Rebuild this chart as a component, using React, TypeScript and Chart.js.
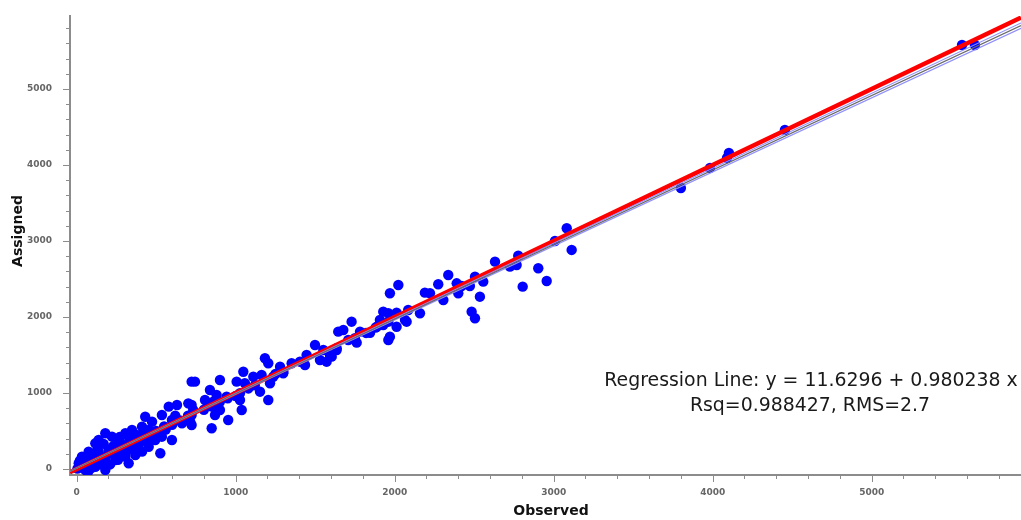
import { useEffect, useRef } from "react";
import { Chart, registerables } from "chart.js";
Chart.register(...registerables);

// Observed (x) and Assigned (y) values
const observed: number[] = [
  3082, 3008, 3113, 2777, 2631, 2725, 2767, 2903, 2505, 2557, 2956, 2805, 2536, 2484,
  2023, 1970, 2337, 2274, 2390, 2421, 2190, 2222, 2306, 2400, 2473, 2505, 1928, 1960,
  2012, 1907, 1960, 2065, 2159, 2085, 1729, 1677, 1782, 1845, 1970, 1960, 1708, 1761,
  1635, 1604, 1887, 1928, 2012, 2075,
  1645, 1499, 1551, 1593, 1635, 1530, 1572, 1446, 1436, 1352, 1404, 1184, 1205, 1279,
  1299, 1236, 1216, 1048, 1111, 1163, 1006, 1058, 1153, 1205, 901, 723, 744, 838, 880,
  807, 859, 943, 1027, 1038, 901, 870, 953, 849, 723, 723, 723, 1027,
  579, 631, 702, 733, 536, 599, 662, 714, 431, 474, 411, 453, 348, 379, 306, 264, 222,
  180, 138, 117, 327, 390, 453, 494, 536, 599, 526, 306, 369, 180, 243, 117, 180, 33,
  75, 13, 5, 54, 23, 138, 201, 411, 274, 71, 327,
  50, 100, 150, 200, 250, 300, 350, 400, 450, 500, 550, 600, 650, 700, 60, 120, 180,
  240, 280, 320, 420, 480, 560, 620, 800, 850, 900, 950, 1000, 1080, 1120, 1250, 1300,
  1750, 1820, 1880,
  20, 40, 90, 110, 160, 210, 260, 130, 60, 230, 290, 350, 170, 100, 270, 380, 440, 330,
  3800, 3983, 4090, 4102, 4454, 5568, 5649,
];
const assigned: number[] = [
  3167, 3000, 2882, 2807, 2728, 2662, 2684, 2641, 2530, 2465, 2474, 2399, 2267, 2070,
  2421, 2312, 2553, 2430, 2443, 2408, 2320, 2312, 2224, 2312, 2408, 1983, 2070, 2049,
  2057, 1961, 1938, 1961, 2049, 2092, 1938, 1829, 1807, 1793, 1741, 1697, 1697, 1662,
  1566, 1478, 1872, 1895, 1872, 1938,
  1807, 1632, 1566, 1500, 1588, 1434, 1412, 1500, 1368, 1391, 1412, 1457, 1391, 1346,
  1259, 1214, 1128, 1280, 1214, 1237, 1149, 1128, 1017, 908, 1171, 1149, 1149, 1039, 974,
  908, 886, 951, 908, 776, 776, 711, 645, 536, 842, 711, 579, 996,
  820, 842, 864, 776, 711, 645, 601, 622, 688, 622, 557, 513, 513, 447, 470, 382, 425,
  470, 382, 338, 293, 316, 293, 382, 425, 382, 207, 162, 184, 96, 118, 30, -13, 162,
  228, 75, 5, -13, 30, 228, 250, 228, 207, -39, 75,
  60, 90, 130, 200, 240, 290, 350, 380, 430, 500, 560, 580, 640, 700, 20, 40, 160,
  180, 330, 250, 470, 420, 520, 700, 780, 820, 880, 930, 960, 1060, 1100, 1250, 1280,
  1720, 1790, 1860,
  110, 150, 10, 130, 60, 60, 120, 250, 140, 300, 200, 260, 330, 190, 420, 320, 360, 400,
  3697, 3961, 4092, 4158, 4461, 5579, 5579,
];

const xLimits = [-42, 5939];
const yLimits = [-79, 5960];
const majorTicks = [0, 1000, 2000, 3000, 4000, 5000];
const minorTicks = [
  200, 400, 600, 800, 1200, 1400, 1600, 1800, 2200, 2400, 2600, 2800, 3200, 3400, 3600,
  3800, 4200, 4400, 4600, 4800, 5200, 5400, 5600, 5800,
];
const regIntercept = 11.6296;
const regSlope = 0.980238;
const bandSlopes = [0.9862, 0.9745];
const xTitle = "Observed";
const yTitle = "Assigned";
const regressionText = ["Regression Line: y = 11.6296 + 0.980238 x", "Rsq=0.988427, RMS=2.7"];

const allTicks = [...majorTicks, ...minorTicks].sort((a, b) => a - b);

export default function App() {
  const ref = useRef<HTMLCanvasElement | null>(null);
  useEffect(() => {
    if (!ref.current) return;
    const points = observed.map((x, i) => ({ x, y: assigned[i] }));
    const lineEnds = (b: number, m: number) => [
      { x: xLimits[0], y: b + m * xLimits[0] },
      { x: xLimits[1], y: b + m * xLimits[1] },
    ];
    const noPad = (s: any) => {
      s.paddingTop = 0;
      s.paddingBottom = 0;
      s.paddingLeft = 0;
      s.paddingRight = 0;
    };
    const decorations = {
      id: "decorations",
      afterDraw(chart: any) {
        const { ctx, chartArea } = chart;
        const xs = chart.scales.x;
        const ys = chart.scales.y;
        ctx.save();
        ctx.strokeStyle = "#8c8c8c";
        ctx.lineWidth = 1;
        for (const v of allTicks) {
          const len = majorTicks.includes(v) ? 6 : 3;
          const px = Math.round(xs.getPixelForValue(v)) + 0.5;
          ctx.beginPath();
          ctx.moveTo(px, chartArea.bottom + 1);
          ctx.lineTo(px, chartArea.bottom + 1 + len);
          ctx.stroke();
          const py = Math.round(ys.getPixelForValue(v)) + 0.5;
          ctx.beginPath();
          ctx.moveTo(chartArea.left - 1, py);
          ctx.lineTo(chartArea.left - 1 - len, py);
          ctx.stroke();
        }
        ctx.fillStyle = "#111";
        ctx.textAlign = "center";
        ctx.textBaseline = "middle";
        ctx.font = 'bold 14px "DejaVu Sans"';
        ctx.fillText(xTitle, 551, 511);
        ctx.save();
        ctx.translate(18, 231);
        ctx.rotate(-Math.PI / 2);
        ctx.font = 'bold 14px "DejaVu Sans"';
        ctx.fillText(yTitle, 0, 0);
        ctx.restore();
        ctx.fillStyle = "#1a1a1a";
        ctx.font = '18.9px "DejaVu Sans"';
        ctx.fillText(regressionText[0], 811, 381);
        ctx.fillText(regressionText[1], 810, 406);
        ctx.restore();
      },
    };
    const chart = new Chart(ref.current, {
      type: "scatter",
      data: {
        datasets: [
          {
            data: lineEnds(regIntercept, regSlope),
            showLine: true,
            borderColor: "#6a6a6a",
            borderWidth: 1.3,
            pointRadius: 0,
          },
          {
            data: lineEnds(regIntercept, bandSlopes[0]),
            showLine: true,
            borderColor: "#8f8fff",
            borderWidth: 1.2,
            pointRadius: 0,
          },
          {
            data: lineEnds(regIntercept, bandSlopes[1]),
            showLine: true,
            borderColor: "#8f8fff",
            borderWidth: 1.2,
            pointRadius: 0,
          },
          {
            data: lineEnds(0, 1),
            showLine: true,
            borderColor: "#ff0000",
            borderWidth: 4.5,
            pointRadius: 0,
          },
          {
            data: points,
            backgroundColor: "#0000ff",
            borderColor: "#0000ff",
            borderWidth: 0,
            pointRadius: 5.2,
          },
        ],
      },
      options: {
        responsive: false,
        animation: false,
        events: [],
        layout: { autoPadding: false, padding: { top: 16, left: 0, right: 0, bottom: 0 } },
        plugins: { legend: { display: false }, tooltip: { enabled: false } },
        scales: {
          x: {
            type: "linear",
            min: xLimits[0],
            max: xLimits[1],
            afterBuildTicks: (s: any) => {
              s.ticks = allTicks.map((v) => ({ value: v }));
            },
            afterFit: (s: any) => {
              s.height = 45;
              noPad(s);
            },
            grid: { display: false, drawTicks: false },
            border: { display: true, color: "#8c8c8c", width: 2 },
            ticks: {
              autoSkip: false,
              maxRotation: 0,
              padding: 12,
              color: "#666",
              font: { family: "DejaVu Sans", size: 9, weight: "bold" },
              callback: (v: any) => (majorTicks.includes(v) ? String(v) : ""),
            },
          },
          y: {
            type: "linear",
            min: yLimits[0],
            max: yLimits[1],
            afterBuildTicks: (s: any) => {
              s.ticks = allTicks.map((v) => ({ value: v }));
            },
            afterFit: (s: any) => {
              s.width = 70;
              noPad(s);
            },
            grid: { display: false, drawTicks: false },
            border: { display: true, color: "#8c8c8c", width: 2 },
            ticks: {
              autoSkip: false,
              padding: 18,
              color: "#666",
              font: { family: "DejaVu Sans", size: 9, weight: "bold" },
              callback: (v: any) => (majorTicks.includes(v) ? String(v) : ""),
            },
          },
        },
      },
      plugins: [decorations],
    } as any);
    return () => chart.destroy();
  }, []);
  return (
    <canvas
      ref={ref}
      width={1021}
      height={520}
      style={{ position: "absolute", left: 0, top: 0, display: "block", background: "#fff" }}
    />
  );
}
